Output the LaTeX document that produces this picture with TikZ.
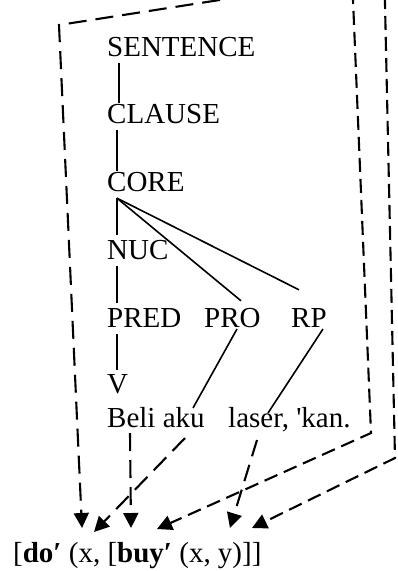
\documentclass[tikz,border=0pt]{standalone}
\usepackage{fontspec}
\setmainfont{Liberation Serif}
\usetikzlibrary{arrows.meta}
\begin{document}
\begin{tikzpicture}[x=1pt,y=1pt,
  lbl/.style={anchor=base west,inner sep=0pt,text height=20pt,text depth=7pt,
    font=\fontsize{29}{34}\selectfont},
  treeline/.style={line width=1.6pt},
  dline/.style={line width=2.1pt,dash pattern=on 18pt off 9pt},
  darrow/.style={dline,-{Triangle[length=15pt,width=15pt]}},
  shortdash/.style={dash pattern=on 14pt off 7pt}]
\useasboundingbox (0,0) rectangle (398,-571);
\clip (0,0) rectangle (398,-571);
% labels
\node[lbl] (s) at (107,-56) {SENTENCE};
\node[lbl] (cl) at (107,-123) {CLAUSE};
\node[lbl] (co) at (107,-191) {CORE};
\node[lbl] (nuc) at (107,-259) {NUC};
\node[lbl] (pred) at (107,-327) {PRED};
\node[lbl] (pro) at (204,-327) {PRO};
\node[lbl] (rp) at (291,-327) {RP};
\node[lbl] (v) at (107,-393) {V};
\node[lbl] (beli) at (107,-427) {Beli aku};
\node[lbl] (laser) at (228,-427) {laser, \textquotesingle kan.};
\node[lbl] (lr) at (13,-562) {[\textbf{do′} (x, [\textbf{buy′} (x, y)]]};
% tree
\draw[treeline] ([xshift=12pt]s.south west) -- ([xshift=12pt]cl.north west);
\draw[treeline] ([xshift=10pt]cl.south west) -- ([xshift=10pt]co.north west);
\draw[treeline] ([xshift=10pt]co.south west) -- ([xshift=10pt,yshift=4pt]nuc.north west);
\draw[treeline] ([xshift=10pt]nuc.south west) -- ([xshift=10pt,yshift=4pt]pred.north west);
\draw[treeline] ([xshift=10pt]pred.south west) -- ([xshift=10pt,yshift=3pt]v.north west);
\draw[treeline] ([xshift=10pt]co.south west) -- ([shift={(37pt,6pt)}]pro.north west);
\draw[treeline] ([xshift=10pt]co.south west) -- ([shift={(8pt,17pt)}]rp.north west);
\draw[treeline] ([shift={(33pt,-2pt)}]pro.base west) -- ([shift={(86pt,19pt)}]beli.base west);
\draw[treeline] ([shift={(32pt,-2pt)}]rp.base west) -- ([shift={(40pt,14pt)}]laser.base west);
% dashed connectors
\coordinate (topL) at (300,12.5);
\coordinate (cornL) at (59,-25);
\coordinate (topA) at (352.6,10);
\coordinate (cornA) at (371,-433);
\coordinate (topB) at (384.8,5);
\coordinate (cornB) at (395,-458);
\coordinate (t1) at ([shift={(69pt,34pt)}]lr.base west);
\coordinate (t2) at ([shift={(81pt,30pt)}]lr.base west);
\coordinate (t3) at ([shift={(118pt,34pt)}]lr.base west);
\coordinate (t4) at ([shift={(144pt,33pt)}]lr.base west);
\coordinate (t5) at ([shift={(217pt,34pt)}]lr.base west);
\coordinate (t6) at ([shift={(239pt,34pt)}]lr.base west);
\draw[darrow] (topL) -- (cornL) -- (t1);
\draw[darrow,shortdash] (topA) -- (cornA) -- (t4);
\draw[darrow,shortdash] (topB) -- (cornB) -- (t6);
\draw[darrow] ([shift={(23pt,-6pt)}]beli.base west) -- (t3);
\draw[darrow] ([shift={(78pt,-11pt)}]beli.base west) -- (t2);
\draw[darrow,dash pattern=on 17pt off 9pt] ([shift={(29pt,-13pt)}]laser.base west) -- (t5);
\end{tikzpicture}
\end{document}
